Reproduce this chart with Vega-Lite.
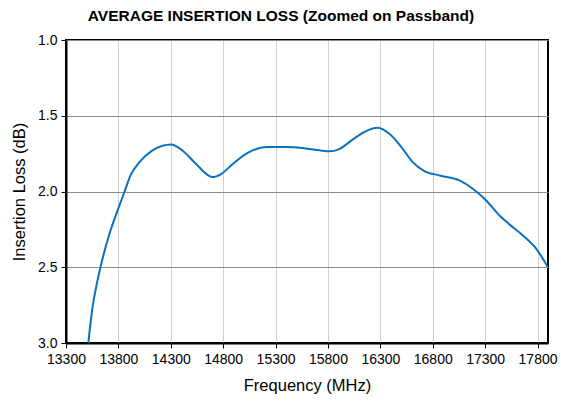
{
  "$schema": "https://vega.github.io/schema/vega-lite/v6.json",
  "width": 482,
  "height": 303,
  "autosize": {"type": "none"},
  "padding": {"left": 66, "top": 40, "right": 13, "bottom": 58},
  "background": "white",
  "title": {
    "text": "AVERAGE INSERTION LOSS (Zoomed on Passband)",
    "font": "Liberation Sans",
    "fontSize": 15.5,
    "fontWeight": "bold",
    "color": "black",
    "offset": 9,
    "dx": -26
  },
  "config": {
    "view": {"stroke": "black", "strokeWidth": 2},
    "axis": {
      "labelFont": "Liberation Sans",
      "titleFont": "Liberation Sans",
      "labelFontSize": 14,
      "titleFontSize": 16.5,
      "titleFontWeight": "normal",
      "labelColor": "black",
      "titleColor": "black",
      "domainColor": "black",
      "domainWidth": 2,
      "tickColor": "black",
      "tickSize": 5
    }
  },
  "data": {
    "values": [
      {"f": 13513, "il": 3.0},
      {"f": 13550, "il": 2.78},
      {"f": 13600, "il": 2.59},
      {"f": 13650, "il": 2.44},
      {"f": 13710, "il": 2.29},
      {"f": 13790, "il": 2.13},
      {"f": 13854, "il": 2.01},
      {"f": 13918, "il": 1.89},
      {"f": 13997, "il": 1.81},
      {"f": 14125, "il": 1.729},
      {"f": 14300, "il": 1.689},
      {"f": 14411, "il": 1.729},
      {"f": 14539, "il": 1.817},
      {"f": 14698, "il": 1.905},
      {"f": 14780, "il": 1.885},
      {"f": 14889, "il": 1.82},
      {"f": 15000, "il": 1.76},
      {"f": 15080, "il": 1.729},
      {"f": 15208, "il": 1.707},
      {"f": 15399, "il": 1.707},
      {"f": 15590, "il": 1.716},
      {"f": 15720, "il": 1.728},
      {"f": 15813, "il": 1.735},
      {"f": 15908, "il": 1.72},
      {"f": 16035, "il": 1.658},
      {"f": 16163, "il": 1.601},
      {"f": 16274, "il": 1.579},
      {"f": 16386, "il": 1.619},
      {"f": 16513, "il": 1.718},
      {"f": 16609, "il": 1.806},
      {"f": 16720, "il": 1.865},
      {"f": 16864, "il": 1.894},
      {"f": 17055, "il": 1.927},
      {"f": 17182, "il": 1.982},
      {"f": 17310, "il": 2.059},
      {"f": 17437, "il": 2.158},
      {"f": 17532, "il": 2.217},
      {"f": 17660, "il": 2.29},
      {"f": 17787, "il": 2.377},
      {"f": 17898, "il": 2.499}
    ]
  },
  "mark": {"type": "line", "color": "#0A71C1", "strokeWidth": 2, "interpolate": "monotone", "clip": true},
  "encoding": {
    "x": {
      "field": "f",
      "type": "quantitative",
      "scale": {"domain": [13300, 17900], "nice": false, "zero": false},
      "axis": {
        "title": "Frequency (MHz)",
        "values": [13300, 13800, 14300, 14800, 15300, 15800, 16300, 16800, 17300, 17800],
        "format": "d",
        "labelFlush": false,
        "labelOverlap": false,
        "gridColor": "#d0d0d0",
        "gridWidth": 1,
        "titlePadding": 11,
        "labelPadding": 4
      }
    },
    "y": {
      "field": "il",
      "type": "quantitative",
      "scale": {"domain": [1, 3], "reverse": true, "nice": false, "zero": false},
      "axis": {
        "title": "Insertion Loss (dB)",
        "values": [1, 1.5, 2, 2.5, 3],
        "format": ".1f",
        "gridColor": "#8c8c8c",
        "gridWidth": 1,
        "titlePadding": 10,
        "labelPadding": 4
      }
    }
  }
}
